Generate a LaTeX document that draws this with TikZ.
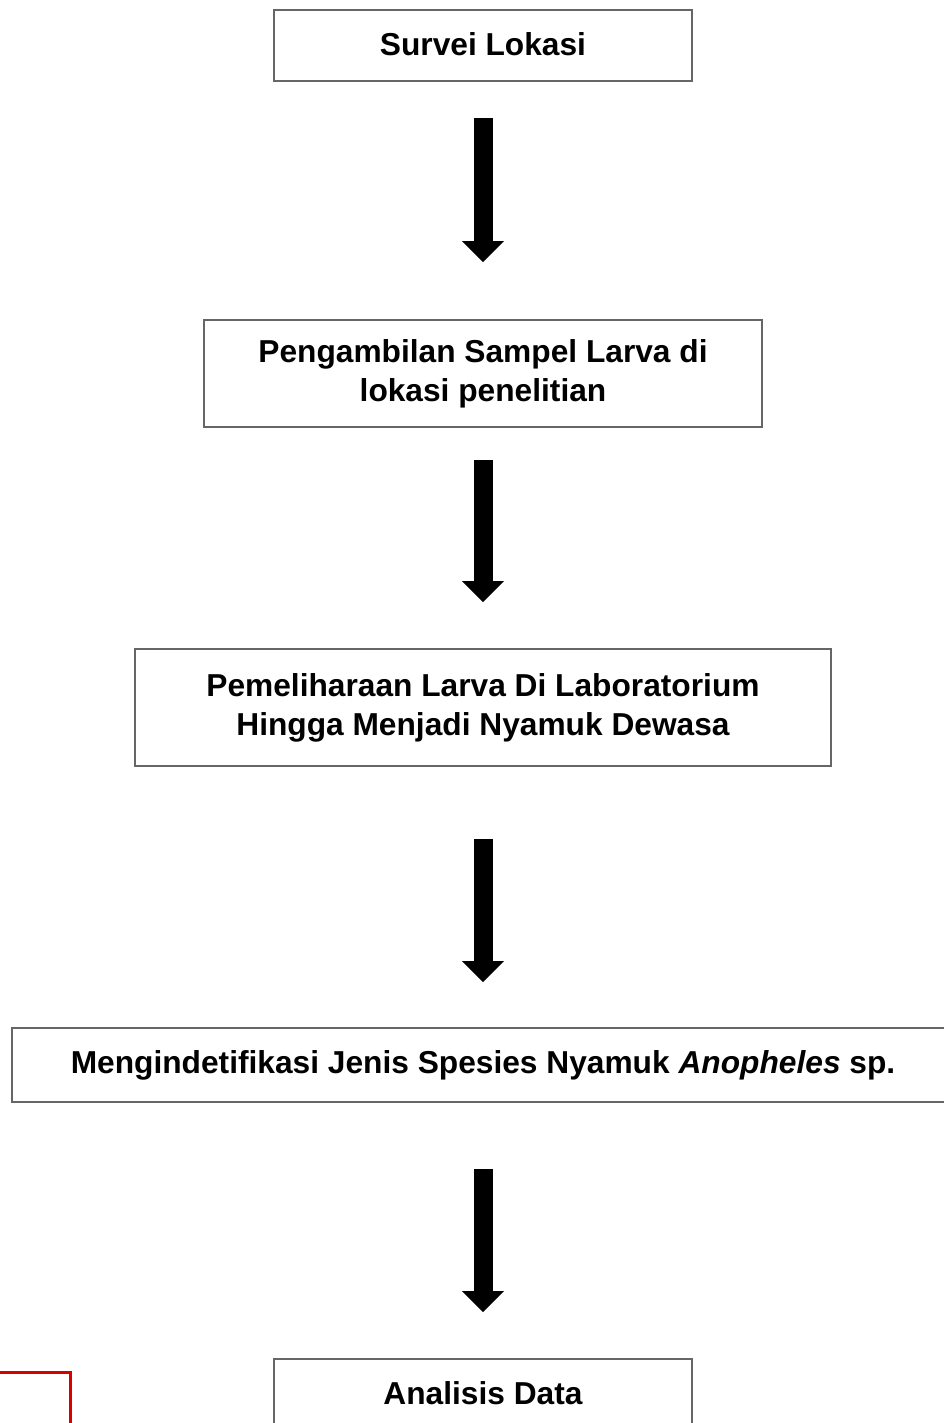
\documentclass[tikz,border=0pt]{standalone}
\usepackage{fontspec}
\setmainfont{Liberation Sans}
\usepackage{tikz}
\usetikzlibrary{positioning, arrows.meta}

\begin{document}
\begin{tikzpicture}[x=1pt, y=-1pt,
    stepbox/.style={draw=black!60, line width=1.6pt, fill=white, align=center, inner sep=0pt,
        font=\fontsize{31.7}{39}\selectfont\bfseries},
    flowarrow/.style={line width=19pt, -{Triangle[width=42pt, length=21pt, line width=0pt]}}]
    \useasboundingbox (0, 0) rectangle (943, 1423);

    \node[stepbox, minimum width=418pt, minimum height=71pt] (survei) at (483, 45.5) {\raisebox{3pt}{Survei Lokasi}};
    \node[stepbox, minimum width=558pt, minimum height=107pt] (sampel) at (483, 373.5) {Pengambilan Sampel Larva di\\lokasi penelitian};
    \node[stepbox, minimum width=696pt, minimum height=117pt] (pelihara) at (483, 707.5) {\raisebox{3pt}{Pemeliharaan Larva Di Laboratorium}\\\raisebox{3pt}{Hingga Menjadi Nyamuk Dewasa}};
    \node[stepbox, minimum width=942pt, minimum height=74pt] (identifikasi) at (483, 1065) {Mengindetifikasi Jenis Spesies Nyamuk \textit{Anopheles} sp.};
    \node[stepbox, minimum width=418pt, minimum height=71pt] (analisis) at (483, 1394.5) {\raisebox{3pt}{Analisis Data}};

    % potongan kotak merah di pojok kiri bawah
    \node[draw=red!85!black, line width=3pt, minimum width=72pt, minimum height=70pt, inner sep=0pt] (merah) at (34, 1407) {};

    \draw[flowarrow, shorten <=36pt, shorten >=57pt] (survei) -- (sampel);
    \draw[flowarrow, shorten <=32pt, shorten >=46pt] (sampel) -- (pelihara);
    \draw[flowarrow, shorten <=72pt, shorten >=45pt] (pelihara) -- (identifikasi);
    \draw[flowarrow, shorten <=66pt, shorten >=46pt] (identifikasi) -- (analisis);
\end{tikzpicture}
\end{document}
